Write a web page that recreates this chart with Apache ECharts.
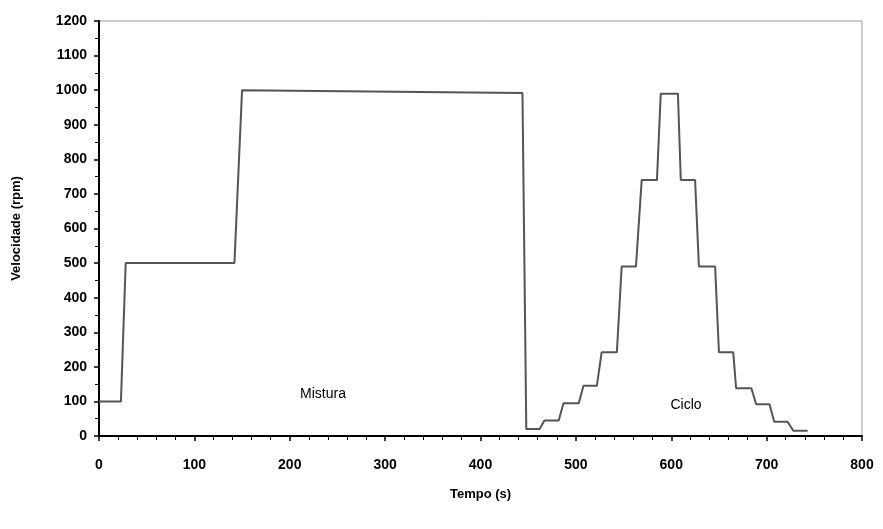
<!DOCTYPE html>
<html>
<head>
<meta charset="utf-8">
<script src="https://cdn.jsdelivr.net/npm/echarts@6/dist/echarts.min.js"></script>
<style>
  html, body { margin: 0; padding: 0; background: #fff; }
  #chart { width: 883px; height: 529px; }
</style>
</head>
<body>
<div id="chart"></div>
<script>
// tempo (s) e velocidade (rpm)
const tempo = [0, 23, 28, 142, 150, 444, 448, 462, 467, 482, 487, 503, 508, 522, 527, 543, 548,
  563, 569, 585, 589, 607, 610, 625, 629, 646, 650, 665, 668, 684, 689, 703, 708, 722, 728, 743]
const velocidade = [100, 100, 500, 500, 1000, 992, 20, 20, 45, 45, 95, 95, 145, 145, 242, 242, 490,
  490, 740, 740, 990, 990, 740, 740, 490, 490, 242, 242, 138, 138, 92, 92, 41, 41, 15, 15]

const rotulos = [
  { texto: 'Mistura', x: 323, y: 394 },
  { texto: 'Ciclo', x: 686, y: 405 }
]

const fonte = 'Liberation Sans, Arial, sans-serif'

const chart = echarts.init(document.getElementById('chart'))
chart.setOption({
  animation: false,
  backgroundColor: '#fff',
  grid: {
    left: 99,
    right: 21,
    top: 21,
    bottom: 93,
    show: true,
    borderColor: '#999',
    borderWidth: 1
  },
  xAxis: {
    type: 'value',
    min: 0,
    max: 800,
    interval: 100,
    name: 'Tempo (s)',
    nameLocation: 'middle',
    nameGap: 52,
    nameTextStyle: { fontFamily: fonte, fontWeight: 'bold', fontSize: 13, color: '#000' },
    axisLine: { lineStyle: { color: '#000', width: 2 } },
    axisTick: { length: 5, lineStyle: { color: '#000', width: 1.5 } },
    minorTick: { show: true, splitNumber: 5, length: 4, lineStyle: { color: '#000' } },
    axisLabel: { margin: 22, fontFamily: fonte, fontWeight: 'bold', fontSize: 14, color: '#000', formatter: v => String(v) },
    splitLine: { show: false }
  },
  yAxis: {
    type: 'value',
    min: 0,
    max: 1200,
    interval: 100,
    name: 'Velocidade (rpm)',
    nameLocation: 'middle',
    nameGap: 76,
    nameTextStyle: { fontFamily: fonte, fontWeight: 'bold', fontSize: 13, color: '#000' },
    axisLine: { lineStyle: { color: '#000', width: 2 } },
    axisTick: { length: 5, lineStyle: { color: '#000', width: 1.5 } },
    minorTick: { show: true, splitNumber: 2, length: 4, lineStyle: { color: '#000' } },
    axisLabel: { margin: 12, fontFamily: fonte, fontWeight: 'bold', fontSize: 14, color: '#000', formatter: v => String(v) },
    splitLine: { show: false }
  },
  series: [{
    type: 'line',
    data: tempo.map((t, i) => [t, velocidade[i]]),
    showSymbol: false,
    lineStyle: { color: '#555', width: 2 },
    z: 3
  }],
  graphic: rotulos.map(r => ({
    type: 'text',
    x: r.x,
    y: r.y,
    style: {
      text: r.texto,
      font: '14px ' + fonte,
      fill: '#000',
      align: 'center',
      verticalAlign: 'middle'
    }
  }))
})
</script>
</body>
</html>
